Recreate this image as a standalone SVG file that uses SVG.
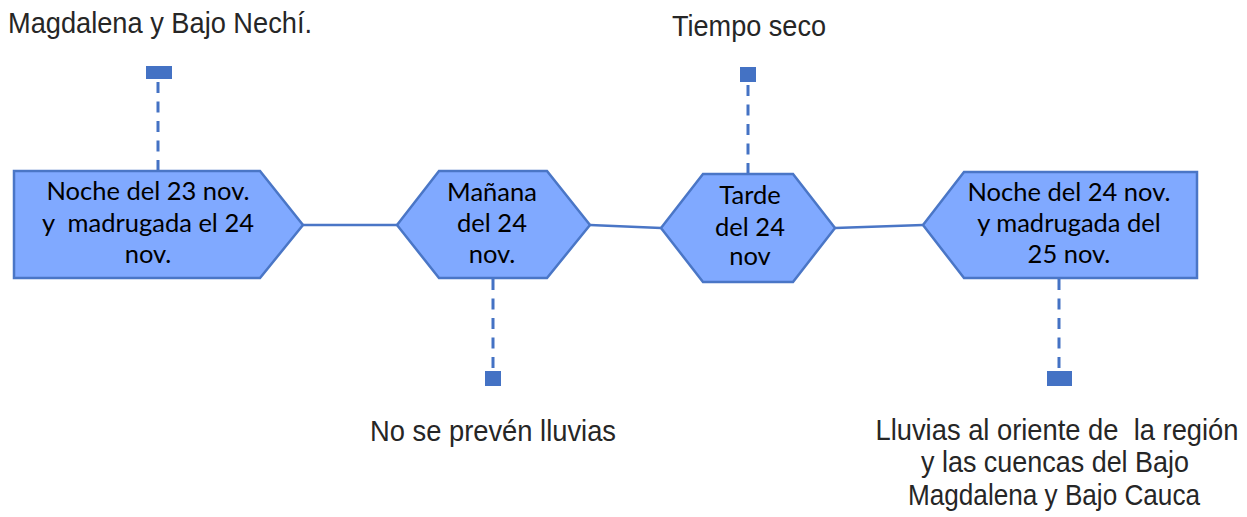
<svg xmlns="http://www.w3.org/2000/svg" width="1247" height="517" viewBox="0 0 1247 517">
<style>
.node{fill:#80A9FF;stroke:#4A76C6;stroke-width:2.5;stroke-linejoin:miter}
.nt{font-family:Lato,"Open Sans",sans-serif;font-size:25.5px;fill:#000;text-anchor:middle}
.lbl{font-family:"Liberation Sans",Arial,sans-serif;font-size:29px;fill:#262626}
.conn{stroke:#4A76C6;stroke-width:2.5;fill:none}
.dash{stroke:#4472C4;stroke-width:3;stroke-dasharray:11 8.5;fill:none}
.sq{fill:#4472C4}
</style>
<rect width="1247" height="517" fill="#fff"/>
<g id="connectors">
<line class="conn" x1="303" y1="225" x2="397" y2="225"/>
<line class="conn" x1="590" y1="225" x2="661" y2="228"/>
<line class="conn" x1="835" y1="228" x2="923" y2="225"/>
<line class="dash" x1="158" y1="171" x2="158" y2="80"/>
<rect class="sq" x="146" y="66" width="26" height="13"/>
<line class="dash" x1="493" y1="279" x2="493" y2="370"/>
<rect class="sq" x="485" y="371" width="16" height="15"/>
<line class="dash" x1="748" y1="174" x2="748" y2="83"/>
<rect class="sq" x="740" y="67" width="16" height="15"/>
<line class="dash" x1="1059" y1="279" x2="1059" y2="370"/>
<rect class="sq" x="1047" y="371" width="25" height="15"/>
</g>
<g id="node1">
<polygon class="node" points="14,171 260,171 303,225 260,278 14,278"/>
<text class="nt" x="148" y="200">Noche del 23 nov.</text>
<text class="nt" x="148" y="232" xml:space="preserve">y  madrugada el 24</text>
<text class="nt" x="148" y="263">nov.</text>
</g>
<g id="node2">
<polygon class="node" points="397,225 439,171 547,171 590,225 547,278 439,278"/>
<text class="nt" x="492" y="201">Mañana</text>
<text class="nt" x="492" y="232">del 24</text>
<text class="nt" x="492" y="263">nov.</text>
</g>
<g id="node3">
<polygon class="node" points="661,228 703,174 793,174 835,228 793,282 703,282"/>
<text class="nt" x="750" y="204">Tarde</text>
<text class="nt" x="750" y="236">del 24</text>
<text class="nt" x="750" y="265">nov</text>
</g>
<g id="node4">
<polygon class="node" points="923,225 964,172 1197,172 1197,278 964,278"/>
<text class="nt" x="1069" y="201">Noche del 24 nov.</text>
<text class="nt" x="1069" y="232">y madrugada del</text>
<text class="nt" x="1069" y="263">25 nov.</text>
</g>
<g id="labels">
<text class="lbl" x="8" y="33" textLength="304" lengthAdjust="spacingAndGlyphs">Magdalena y Bajo Nechí.</text>
<text class="lbl" x="749" y="36" text-anchor="middle" textLength="154" lengthAdjust="spacingAndGlyphs">Tiempo seco</text>
<text class="lbl" x="493" y="441" text-anchor="middle" textLength="246" lengthAdjust="spacingAndGlyphs">No se prevén lluvias</text>
<text class="lbl" x="1057" y="440" text-anchor="middle" xml:space="preserve" textLength="363" lengthAdjust="spacingAndGlyphs">Lluvias al oriente de  la región</text>
<text class="lbl" x="1055" y="472" text-anchor="middle" textLength="268" lengthAdjust="spacingAndGlyphs">y las cuencas del Bajo</text>
<text class="lbl" x="1054" y="505" text-anchor="middle" textLength="292" lengthAdjust="spacingAndGlyphs">Magdalena y Bajo Cauca</text>
</g>
</svg>
